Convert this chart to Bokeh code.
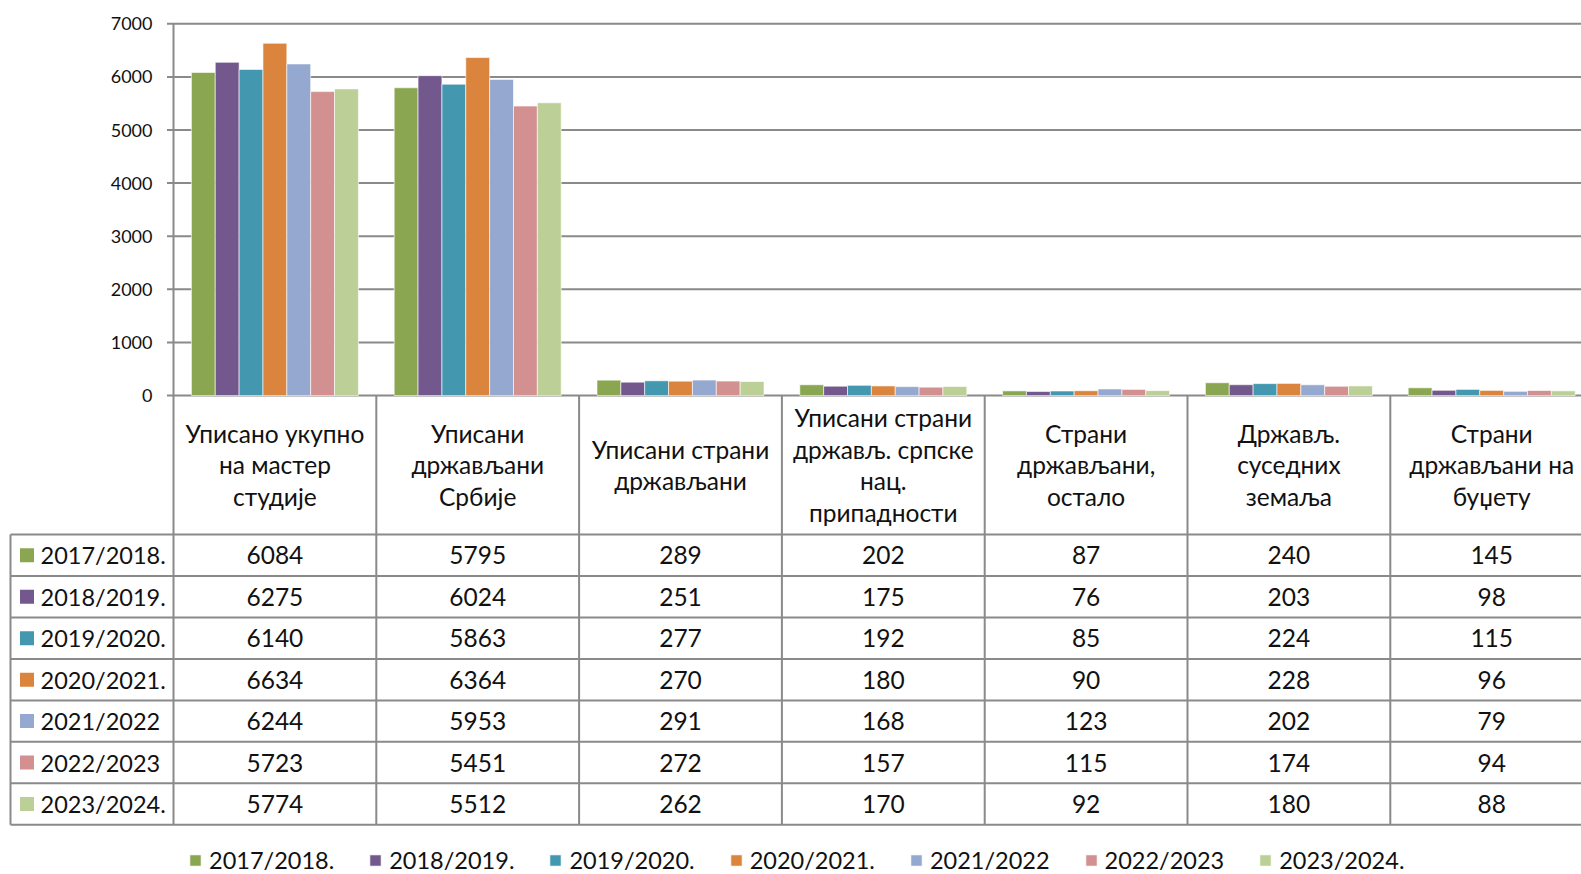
from bokeh.plotting import figure
from bokeh.models import Range1d, ColumnDataSource, Legend, LegendItem
from bokeh.transform import dodge
from bokeh.core.properties import value
from bokeh.embed import file_html
from bokeh.resources import INLINE

# ---------------- data ----------------
categories = [
    "Уписано укупно\nна мастер\nстудије",
    "Уписани\nдржављани\nСрбије",
    "Уписани страни\nдржављани",
    "Уписани страни\nдржављ. српске\nнац.\nприпадности",
    "Страни\nдржављани,\nостало",
    "Држављ.\nсуседних\nземаља",
    "Страни\nдржављани на\nбуџету",
]
series = ["2017/2018.", "2018/2019.", "2019/2020.", "2020/2021.",
          "2021/2022", "2022/2023", "2023/2024."]
v_2017_2018 = [6084, 5795, 289, 202, 87, 240, 145]
v_2018_2019 = [6275, 6024, 251, 175, 76, 203, 98]
v_2019_2020 = [6140, 5863, 277, 192, 85, 224, 115]
v_2020_2021 = [6634, 6364, 270, 180, 90, 228, 96]
v_2021_2022 = [6244, 5953, 291, 168, 123, 202, 79]
v_2022_2023 = [5723, 5451, 272, 157, 115, 174, 94]
v_2023_2024 = [5774, 5512, 262, 170, 92, 180, 88]
values = [v_2017_2018, v_2018_2019, v_2019_2020, v_2020_2021,
          v_2021_2022, v_2022_2023, v_2023_2024]
y_ticks = [0, 1000, 2000, 3000, 4000, 5000, 6000, 7000]

colors = ["#8BA650", "#73588D", "#4398B0", "#DB843D", "#95A9D0", "#D29190", "#BBCF96"]

# ---------------- layout (page pixels) ----------------
W, H = 1581, 874
PX_L, PX_R = 0, W
PY_T, PY_B = 0, H
X0, CW = 173.0, 202.8          # left of plot area, category width
Y0, YTOP, YMAX = 395.0, 23.3, 7000.0
PPU = (Y0 - YTOP) / YMAX
HDR_TOP, HDR_BOT = 395.0, 534.0
RH = (824.3 - 534.0) / 7.0
TBL_L = 10.0
FONT_NAME = "Lato"
FONT = value(FONT_NAME)
FS = "24.5px"
FS_KEY = "23.5px"
GRID = "#8a8a8a"
TXT = "#111111"

p = figure(width=W, height=H, output_backend="svg", toolbar_location=None,
           x_range=Range1d((PX_L - X0) / CW, (PX_R - X0) / CW),
           y_range=Range1d(-(PY_B - Y0) / PPU, (Y0 - PY_T) / PPU),
           x_axis_location=None, y_axis_location=None, min_border=0,
           outline_line_color=None, background_fill_color="white",
           border_fill_color="white")
p.grid.visible = False
p.extra_x_ranges = {"px": Range1d(PX_L, PX_R)}
p.extra_y_ranges = {"px": Range1d(PY_B, PY_T)}

n = len(series)
ncat = len(categories)
bw = 1.0 / (n + 1.5)
centers = [i + 0.5 for i in range(ncat)]

# gridlines + tick marks
p.segment(x0=[166.5] * len(y_ticks), x1=[PX_R] * len(y_ticks), y0=y_ticks, y1=y_ticks,
          x_range_name="px", line_color=GRID, line_width=2)
# y axis line
p.segment(x0=[0], x1=[0], y0=[0], y1=[YMAX], line_color=GRID, line_width=2)
# tick labels
p.text(x=[152] * len(y_ticks), y=y_ticks, text=[str(t) for t in y_ticks], x_range_name="px",
       text_align="right", text_baseline="middle", text_font=FONT,
       text_font_size="18px", text_color=TXT)

# bars
renderers = []
for j, (name, vals, col) in enumerate(zip(series, values, colors)):
    src = ColumnDataSource(dict(x=centers, top=vals))
    r = p.vbar(x=dodge("x", (j - (n - 1) / 2) * bw), top="top", width=bw, source=src,
               fill_color=col, line_color="white", line_width=1, line_alpha=0.6)
    renderers.append(r)

# table lines
bounds = list(range(ncat))
p.segment(x0=bounds, x1=bounds, y0=[HDR_TOP] * len(bounds), y1=[HDR_BOT + 7 * RH] * len(bounds),
          y_range_name="px", line_color=GRID, line_width=2)
p.segment(x0=[TBL_L], x1=[TBL_L], y0=[HDR_BOT], y1=[HDR_BOT + 7 * RH],
          x_range_name="px", y_range_name="px", line_color=GRID, line_width=2)
rows_y = [HDR_BOT + r * RH for r in range(n + 1)]
p.segment(x0=[TBL_L] * len(rows_y), x1=[PX_R] * len(rows_y), y0=rows_y, y1=rows_y,
          x_range_name="px", y_range_name="px", line_color=GRID, line_width=2)

# header labels
p.text(x=centers, y=[(HDR_TOP + HDR_BOT) / 2] * ncat, text=categories, y_range_name="px",
       text_align="center", text_baseline="middle", text_font=FONT, text_font_size=FS,
       text_line_height=1.1, text_color=TXT)

# table body
for j, (name, vals, col) in enumerate(zip(series, values, colors)):
    yc = HDR_BOT + (j + 0.5) * RH
    p.text(x=centers, y=[yc] * ncat, text=[str(v) for v in vals], y_range_name="px",
           text_align="center", text_baseline="middle", text_font=FONT,
           text_font_size=FS, text_color=TXT)
    p.rect(x=[26.5], y=[yc], width=14, height=14, x_range_name="px", y_range_name="px",
           fill_color=col, line_color=None)
    p.text(x=[40], y=[yc], text=[name], x_range_name="px", y_range_name="px",
           text_align="left", text_baseline="middle", text_font=FONT,
           text_font_size=FS_KEY, text_color=TXT)

legend = Legend(items=[LegendItem(label=s, renderers=[r]) for s, r in zip(series, renderers)],
                orientation="horizontal", location=(188, 0), glyph_width=14, glyph_height=14,
                label_standoff=7, spacing=34, padding=0, margin=0, border_line_color=None,
                background_fill_alpha=0, label_text_font=FONT_NAME, label_text_font_size=FS_KEY,
                label_text_color=TXT, label_text_baseline="middle")
p.add_layout(legend)

open("out.html", "w").write(file_html(p, INLINE))
